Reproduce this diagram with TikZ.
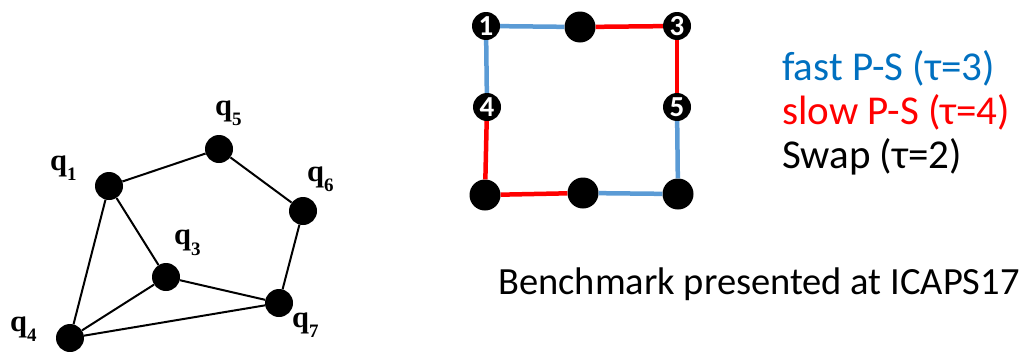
\documentclass[tikz,border=0pt]{standalone}
\usepackage{fontspec}
\setmainfont{Carlito}
\newfontfamily\qfont{Liberation Serif}
\definecolor{fastblue}{RGB}{91,155,213}
\definecolor{legendblue}{RGB}{0,112,192}
\newcommand{\qsub}[1]{\raisebox{-10.5pt}{\fontsize{19}{19}\selectfont #1}}
\begin{document}
\begin{tikzpicture}[x=1pt,y=-1pt]
\useasboundingbox (0,0) rectangle (1027,351);
\tikzset{
  gnode/.style={circle,fill=black,inner sep=0pt,minimum size=28pt},
  gedge/.style={line width=2pt},
  qlabel/.style={anchor=base west,inner sep=0pt,font=\qfont\bfseries\fontsize{30.5}{30.5}\selectfont},
  cnode/.style={circle,fill=black,inner sep=0pt,minimum size=31pt},
  numnode/.style={circle,fill=black,inner sep=0pt,minimum size=28pt,text=white,font=\bfseries\fontsize{29}{29}\selectfont},
  fastedge/.style={line width=4.5pt,draw=fastblue},
  slowedge/.style={line width=4.5pt,draw=red},
  legend/.style={anchor=base west,inner sep=0pt,font=\fontsize{41}{41}\selectfont},
}

% ---- left graph ----
\node[gnode] (q1) at (109,186) {};
\node[gnode] (q5) at (219,149) {};
\node[gnode] (q6) at (303,211) {};
\node[gnode] (q3) at (166,277) {};
\node[gnode] (q7) at (279,303) {};
\node[gnode] (q4) at (70,338) {};

\draw[gedge] (q1) -- (q5);
\draw[gedge] (q5) -- (q6);
\draw[gedge] (q6) -- (q7);
\draw[gedge] (q1) -- (q4);
\draw[gedge] (q1) -- (q3);
\draw[gedge] (q3) -- (q7);
\draw[gedge] (q3) -- (q4);
\draw[gedge] (q4) -- (q7);

\node[qlabel] (l1) at (50,170) {q\qsub{1}};
\node[qlabel] (l5) at (215,115) {q\qsub{5}};
\node[qlabel] (l6) at (307,181) {q\qsub{6}};
\node[qlabel] (l3) at (174,244.5) {q\qsub{3}};
\node[qlabel] (l7) at (292,327) {q\qsub{7}};
\node[qlabel] (l4) at (10,331) {q\qsub{4}};

% ---- grid instance ----
\node[numnode] (n1) at (486,26) {1};
\node[cnode]   (tm) at (580,27) {};
\node[numnode] (n3) at (677,26) {3};
\node[numnode] (n4) at (487,107) {4};
\node[numnode] (n5) at (677,107) {5};
\node[cnode]   (bl) at (485,195) {};
\node[cnode]   (bm) at (583,193) {};
\node[cnode]   (br) at (678,194) {};

\draw[fastedge] (n1) -- (tm);
\draw[slowedge] (tm) -- (n3);
\draw[slowedge] (n3) -- (n5);
\draw[fastedge] (n1) -- (n4);
\draw[slowedge] (n4) -- (bl);
\draw[slowedge] (bl) -- (bm);
\draw[fastedge] (bm) -- (br);
\draw[fastedge] (n5) -- (br);

% ---- legend ----
\node[legend,text=legendblue] (lfast) at (782,80) {fast P-S (τ=3)};
\node[legend,text=red]        (lslow) at (782,124) {slow P-S (τ=4)};
\node[legend,text=black]      (lswap) at (782,168) {Swap (τ=2)};

\node[anchor=base west,inner sep=0pt,font=\fontsize{38.5}{38.5}\selectfont] (bench) at (498,294) {Benchmark presented at ICAPS17};
\end{tikzpicture}
\end{document}
